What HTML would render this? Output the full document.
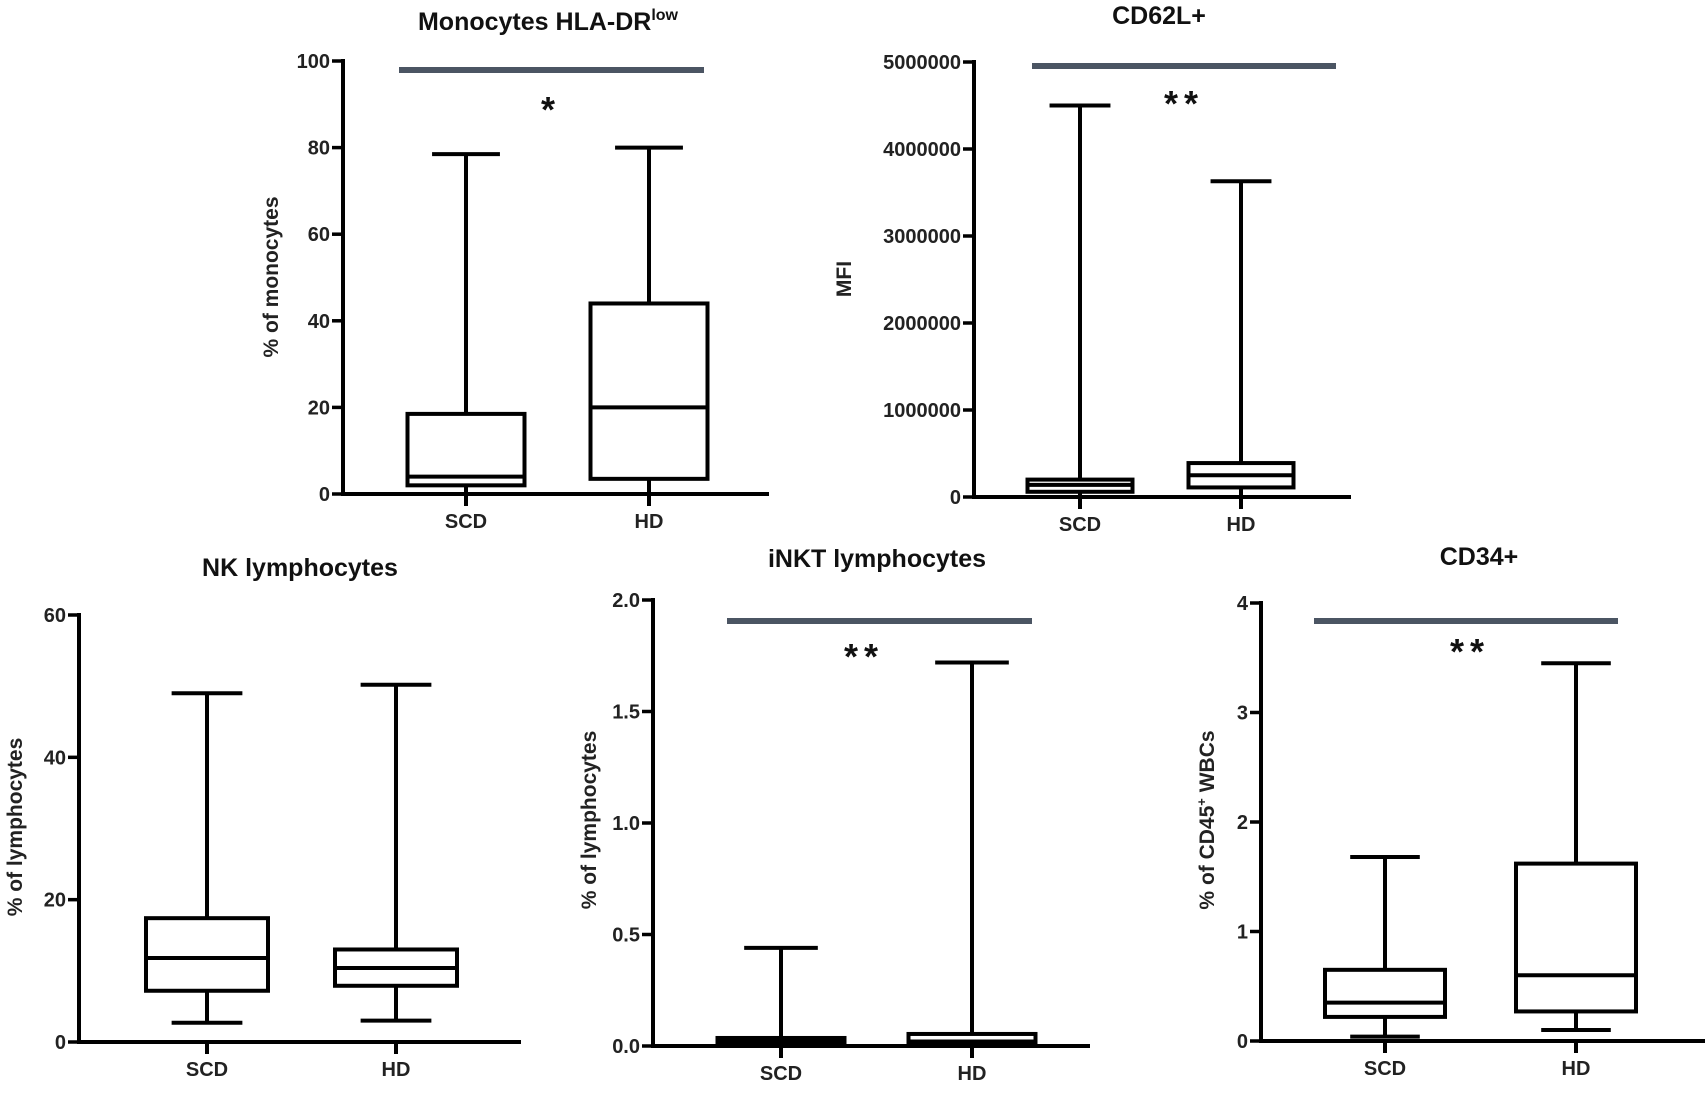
<!DOCTYPE html>
<html><head><meta charset="utf-8"><style>
html,body{margin:0;padding:0;background:#fff;}
svg{display:block;font-family:"Liberation Sans",Arial,sans-serif;font-weight:bold;}
</style></head><body>
<svg id="fig" width="1705" height="1096" viewBox="0 0 1705 1096" xmlns="http://www.w3.org/2000/svg"></svg>
<script>
// ---- data (top level) ----
const groups = ["SCD", "HD"];
// Monocytes HLA-DR low
const monoMax = [78.5, 80], monoQ3 = [18.5, 44], monoMed = [4, 20], monoQ1 = [2, 3.5], monoMin = [0, 0];
const monoTicks = [0, 20, 40, 60, 80, 100];
const monoTickLabels = ["0", "20", "40", "60", "80", "100"];
// CD62L+
const cd62Max = [4500000, 3630000], cd62Q3 = [200000, 390000], cd62Med = [140000, 250000], cd62Q1 = [60000, 110000], cd62Min = [0, 0];
const cd62Ticks = [0, 1000000, 2000000, 3000000, 4000000, 5000000];
const cd62TickLabels = ["0", "1000000", "2000000", "3000000", "4000000", "5000000"];
// NK
const nkMax = [49, 50.2], nkQ3 = [17.4, 13], nkMed = [11.8, 10.4], nkQ1 = [7.2, 7.9], nkMin = [2.7, 3.0];
const nkTicks = [0, 20, 40, 60];
const nkTickLabels = ["0", "20", "40", "60"];
// iNKT
const inktMax = [0.44, 1.72], inktQ3 = [0.036, 0.054], inktMed = [0.02, 0.02], inktQ1 = [0.008, 0.01], inktMin = [0, 0];
const inktTicks = [0, 0.5, 1.0, 1.5, 2.0];
const inktTickLabels = ["0.0", "0.5", "1.0", "1.5", "2.0"];
// CD34+
const cd34Max = [1.68, 3.45], cd34Q3 = [0.65, 1.62], cd34Med = [0.35, 0.6], cd34Q1 = [0.22, 0.27], cd34Min = [0.04, 0.1];
const cd34Ticks = [0, 1, 2, 3, 4];
const cd34TickLabels = ["0", "1", "2", "3", "4"];

const NS = "http://www.w3.org/2000/svg";
const svg = document.getElementById("fig");
function mk(tag, attrs, parent) {
  const e = document.createElementNS(NS, tag);
  for (const k in attrs) e.setAttribute(k, attrs[k]);
  (parent || svg).appendChild(e);
  return e;
}

function panel(cfg, d) {
  const g = mk("g", {});
  
  
  const yMax = d.ticks[d.ticks.length - 1];
  const y = v => cfg.y0 - (v / yMax) * (cfg.y0 - cfg.yTop);
  // title
  const t = mk("text", {x: cfg.titleX, y: cfg.titleY, "text-anchor": "middle", "font-size": 25, fill: "#111"}, g);
  
  
  t.textContent = cfg.title;
  if (cfg.sup) { const s = mk("tspan", {"font-size": 16, dy: -10}, t); s.textContent = cfg.sup; }
  // y axis
  const ya = mk("line", {x1: cfg.ax, y1: y(yMax) - 2, x2: cfg.ax, y2: cfg.y0 + 2, stroke: "#000", "stroke-width": 4}, g);
  
  
  d.ticks.forEach((v, i) => {
    const tk = mk("line", {x1: cfg.ax - 11, y1: y(v), x2: cfg.ax, y2: y(v), stroke: "#000", "stroke-width": 3.5}, g);
    
    
    const tl = mk("text", {x: cfg.ax - 13, y: y(v) + 7, "text-anchor": "end", "font-size": 20, fill: "#222"}, g);
    
    
    tl.textContent = d.labels[i];
  });
  // x axis
  const xa = mk("line", {x1: cfg.ax - 2, y1: cfg.y0, x2: cfg.xEnd, y2: cfg.y0, stroke: "#000", "stroke-width": 4}, g);
  
  
  // y title
  const yt = mk("text", {x: 0, y: 0, "text-anchor": "middle", "font-size": 21, fill: "#222",
    transform: "translate(" + cfg.ylX + "," + cfg.ylY + ") rotate(-90)"}, g);
  
  
  yt.textContent = cfg.ylabel;
  if (cfg.ylSup) { yt.textContent = ""; const a = mk("tspan", {}, yt); a.textContent = "% of CD45"; const b = mk("tspan", {"font-size": 13, dy: -8}, yt); b.textContent = "+"; const c = mk("tspan", {dy: 8}, yt); c.textContent = " WBCs"; }
  // boxes
  const hw = cfg.boxW / 2, cw = cfg.boxW * 0.29;
  groups.forEach((grp, i) => {
    const cx = cfg.cx[i];
    const tk = mk("line", {x1: cx, y1: cfg.y0, x2: cx, y2: cfg.y0 + 12, stroke: "#000", "stroke-width": 4}, g);
    
    
    const lb = mk("text", {x: cx, y: cfg.y0 + 34, "text-anchor": "middle", "font-size": 20, fill: "#222"}, g);
    
    
    lb.textContent = grp;
    const bg = mk("g", {stroke: "#000", "stroke-width": 4, fill: "none"}, g);
    
    
    mk("line", {x1: cx, y1: y(d.max[i]), x2: cx, y2: y(d.q3[i])}, bg);
    mk("line", {x1: cx, y1: y(d.q1[i]), x2: cx, y2: y(d.min[i])}, bg);
    mk("line", {x1: cx - cw, y1: y(d.max[i]), x2: cx + cw, y2: y(d.max[i])}, bg);
    mk("line", {x1: cx - cw, y1: y(d.min[i]), x2: cx + cw, y2: y(d.min[i])}, bg);
    mk("rect", {x: cx - hw, y: y(d.q3[i]), width: cfg.boxW, height: Math.max(0.5, y(d.q1[i]) - y(d.q3[i])), fill: "#fff"}, bg);
    mk("line", {x1: cx - hw, y1: y(d.med[i]), x2: cx + hw, y2: y(d.med[i])}, bg);
  });
  if (cfg.sig) {
    const sb = mk("line", {x1: cfg.sig[0], y1: cfg.sig[2], x2: cfg.sig[1], y2: cfg.sig[2], stroke: "#4b5563", "stroke-width": 6}, g);
    
    
    const st = mk("text", {x: cfg.star[0], y: cfg.star[1] + 18, "text-anchor": "middle", "font-size": 36, fill: "#111", "letter-spacing": 6}, g);
    
    
    st.textContent = cfg.starText;
  }
}

panel({id: "monocytes", title: "Monocytes HLA-DR", sup: "low", titleX: 548, titleY: 30, ax: 343, y0: 494, yTop: 61, xEnd: 769,
  cx: [466, 649], boxW: 117, ylabel: "% of monocytes", ylX: 278, ylY: 277, sig: [399, 704, 70], star: [551, 104], starText: "*"},
  {ticks: monoTicks, labels: monoTickLabels, max: monoMax, q3: monoQ3, med: monoMed, q1: monoQ1, min: monoMin});
panel({id: "cd62l", title: "CD62L+", titleX: 1159, titleY: 24, ax: 974, y0: 497, yTop: 62, xEnd: 1351,
  cx: [1080, 1241], boxW: 105, ylabel: "MFI", ylX: 851, ylY: 279, sig: [1032, 1336, 66], star: [1184, 98], starText: "**"},
  {ticks: cd62Ticks, labels: cd62TickLabels, max: cd62Max, q3: cd62Q3, med: cd62Med, q1: cd62Q1, min: cd62Min});
panel({id: "nk", title: "NK lymphocytes", titleX: 300, titleY: 576, ax: 79, y0: 1042, yTop: 615, xEnd: 521,
  cx: [207, 396], boxW: 122, ylabel: "% of lymphocytes", ylX: 22, ylY: 827},
  {ticks: nkTicks, labels: nkTickLabels, max: nkMax, q3: nkQ3, med: nkMed, q1: nkQ1, min: nkMin});
panel({id: "inkt", title: "iNKT lymphocytes", titleX: 877, titleY: 567, ax: 653, y0: 1046, yTop: 600, xEnd: 1090,
  cx: [781, 972], boxW: 127, ylabel: "% of lymphocytes", ylX: 596, ylY: 820, sig: [727, 1032, 621], star: [864, 651], starText: "**"},
  {ticks: inktTicks, labels: inktTickLabels, max: inktMax, q3: inktQ3, med: inktMed, q1: inktQ1, min: inktMin});
panel({id: "cd34", title: "CD34+", titleX: 1479, titleY: 565, ax: 1261, y0: 1041, yTop: 603, xEnd: 1705,
  cx: [1385, 1576], boxW: 120, ylabel: "% of CD45+ WBCs", ylSup: true, ylX: 1214, ylY: 820, sig: [1314, 1618, 621], star: [1470, 646], starText: "**"},
  {ticks: cd34Ticks, labels: cd34TickLabels, max: cd34Max, q3: cd34Q3, med: cd34Med, q1: cd34Q1, min: cd34Min});
</script>
</body></html>
